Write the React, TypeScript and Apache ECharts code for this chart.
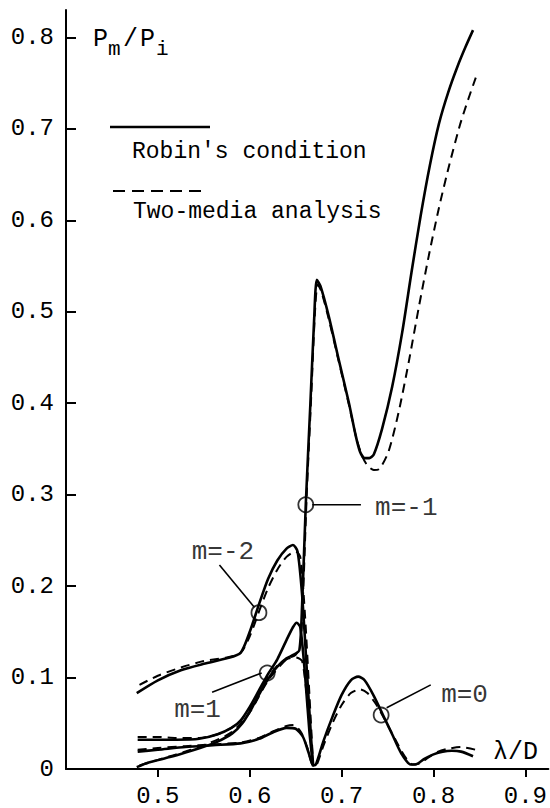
import React, { useEffect, useRef } from "react";
import * as echarts from "echarts";

// Robin's condition (solid)
const robinM0: number[][] = [
  [0.478, 0.019], [0.5, 0.021], [0.53, 0.024], [0.56, 0.026], [0.59, 0.028], [0.61, 0.033],
  [0.625, 0.04], [0.64, 0.045], [0.65, 0.044], [0.658, 0.035], [0.664, 0.018], [0.669, 0.004],
  [0.672, 0.005], [0.68, 0.03], [0.69, 0.057], [0.7, 0.081], [0.71, 0.097], [0.718, 0.101],
  [0.725, 0.097], [0.735, 0.08], [0.745, 0.059], [0.755, 0.038], [0.765, 0.017], [0.775, 0.005],
  [0.78, 0.005], [0.79, 0.011], [0.8, 0.016], [0.81, 0.019], [0.82, 0.02], [0.83, 0.019], [0.843, 0.014],
];
const robinM1: number[][] = [
  [0.478, 0.032], [0.5, 0.032], [0.52, 0.032], [0.545, 0.033], [0.565, 0.038], [0.58, 0.045],
  [0.59, 0.053], [0.6, 0.068], [0.61, 0.086], [0.62, 0.104], [0.63, 0.12], [0.64, 0.141],
  [0.647, 0.155], [0.651, 0.16], [0.655, 0.155], [0.66, 0.105], [0.665, 0.04], [0.669, 0.003],
];
const robinMm1: number[][] = [
  [0.477, 0.002], [0.49, 0.007], [0.513, 0.013], [0.53, 0.018], [0.549, 0.024], [0.565, 0.03],
  [0.581, 0.039], [0.592, 0.05], [0.603, 0.068], [0.612, 0.085], [0.621, 0.1], [0.63, 0.112],
  [0.64, 0.121], [0.648, 0.125], [0.654, 0.13], [0.657, 0.18], [0.661, 0.29], [0.666, 0.4],
  [0.67, 0.49], [0.673, 0.535], [0.677, 0.528], [0.686, 0.495], [0.697, 0.447], [0.708, 0.4],
  [0.715, 0.366], [0.72, 0.347], [0.725, 0.34], [0.73, 0.34], [0.735, 0.344], [0.744, 0.372],
  [0.755, 0.418], [0.766, 0.478], [0.776, 0.543], [0.786, 0.605], [0.796, 0.66], [0.806, 0.706],
  [0.816, 0.74], [0.826, 0.768], [0.835, 0.79], [0.843, 0.808],
];
const robinMm2: number[][] = [
  [0.477, 0.083], [0.5, 0.097], [0.525, 0.108], [0.55, 0.115], [0.575, 0.121], [0.59, 0.127],
  [0.6, 0.15], [0.61, 0.18], [0.62, 0.208], [0.63, 0.228], [0.64, 0.241], [0.647, 0.245],
  [0.652, 0.238], [0.657, 0.19], [0.662, 0.11], [0.667, 0.03], [0.669, 0.004],
];

// Two-media analysis (dashed)
const twoM0: number[][] = [
  [0.478, 0.021], [0.5, 0.023], [0.53, 0.025], [0.56, 0.027], [0.59, 0.029], [0.61, 0.034],
  [0.625, 0.041], [0.64, 0.047], [0.648, 0.048], [0.656, 0.04], [0.663, 0.022], [0.669, 0.004],
  [0.673, 0.005], [0.68, 0.025], [0.69, 0.05], [0.7, 0.07], [0.71, 0.083], [0.72, 0.087],
  [0.728, 0.083], [0.738, 0.07], [0.748, 0.052], [0.758, 0.033], [0.768, 0.015], [0.777, 0.005],
  [0.785, 0.006], [0.795, 0.013], [0.805, 0.019], [0.815, 0.022], [0.83, 0.024], [0.846, 0.021],
];
const twoM1: number[][] = [
  [0.478, 0.035], [0.5, 0.035], [0.52, 0.034], [0.545, 0.034], [0.565, 0.038], [0.58, 0.045],
  [0.59, 0.053], [0.6, 0.066], [0.61, 0.083], [0.62, 0.1], [0.63, 0.113], [0.64, 0.12],
  [0.65, 0.122], [0.657, 0.118], [0.663, 0.07], [0.669, 0.003],
];
const twoMm1: number[][] = [
  [0.48, 0.004], [0.5, 0.01], [0.52, 0.016], [0.55, 0.026], [0.58, 0.04], [0.6, 0.062],
  [0.62, 0.097], [0.64, 0.12], [0.65, 0.125], [0.655, 0.135], [0.658, 0.19], [0.662, 0.3],
  [0.667, 0.41], [0.671, 0.5], [0.674, 0.53], [0.678, 0.522], [0.686, 0.492], [0.697, 0.445],
  [0.708, 0.398], [0.716, 0.362], [0.722, 0.343], [0.728, 0.332], [0.735, 0.327], [0.741, 0.328],
  [0.751, 0.347], [0.762, 0.39], [0.773, 0.445], [0.784, 0.505], [0.795, 0.562], [0.806, 0.614],
  [0.817, 0.66], [0.829, 0.705], [0.838, 0.733], [0.846, 0.756],
];
const twoMm2: number[][] = [
  [0.48, 0.092], [0.5, 0.102], [0.525, 0.111], [0.55, 0.118], [0.575, 0.122], [0.59, 0.127],
  [0.6, 0.145], [0.61, 0.172], [0.62, 0.198], [0.63, 0.218], [0.64, 0.232], [0.65, 0.238],
  [0.655, 0.232], [0.66, 0.17], [0.665, 0.08], [0.669, 0.004],
];

// Annotations: order labels, circle marks and leader lines
const orderNames = ["m=-2", "m=1", "m=-1", "m=0"];
const circlePoints: number[][] = [[0.61, 0.171], [0.619, 0.105], [0.661, 0.289], [0.743, 0.059]];
const leaderStarts: number[][] = [[0.605, 0.177], [0.613, 0.105], [0.668, 0.289], [0.749, 0.067]];
const leaderEnds: number[][] = [[0.567, 0.223], [0.559, 0.084], [0.721, 0.289], [0.797, 0.092]];
const labelPoints: number[][] = [[0.5708, 0.2373], [0.5432, 0.0645], [0.7704, 0.2854], [0.8338, 0.0809]];

const xTicks = [0.5, 0.6, 0.7, 0.8, 0.9];
const yTicks = [0, 0.1, 0.2, 0.3, 0.4, 0.5, 0.6, 0.7, 0.8];

const MONO = "'Liberation Mono', 'DejaVu Sans Mono', monospace";

export default function App() {
  const ref = useRef<HTMLDivElement>(null);
  useEffect(() => {
    if (!ref.current) return;
    const chart = echarts.init(ref.current, undefined, { renderer: "svg" });

    const curve = (name: string, data: number[][], dashed: boolean) => ({
      name,
      type: "line",
      data,
      showSymbol: false,
      symbol: "none",
      smooth: 0.25,
      silent: true,
      lineStyle: dashed
        ? { color: "#000", width: 2, type: [9, 6] }
        : { color: "#000", width: 2.6 },
      z: dashed ? 3 : 4,
    });

    const leaders = leaderStarts.map((s, i) => ({
      name: "leader" + i,
      type: "line",
      data: [s, leaderEnds[i]],
      showSymbol: false,
      symbol: "none",
      silent: true,
      lineStyle: { color: "#000", width: 1.6 },
      z: 5,
    }));

    chart.setOption({
      animation: false,
      backgroundColor: "#fff",
      grid: { left: 66, right: 0, top: 10, bottom: 39, containLabel: false },
      xAxis: {
        type: "value",
        min: 0.4,
        max: 0.925,
        interval: 0.1,
        splitLine: { show: false },
        axisLine: { show: true, onZero: false, lineStyle: { color: "#000", width: 2 } },
        axisTick: {
          show: true,
          inside: false,
          length: 8,
          customValues: xTicks,
          lineStyle: { color: "#000", width: 2 },
        },
        axisLabel: {
          customValues: xTicks,
          formatter: (v: number) => v.toFixed(1),
          fontFamily: MONO,
          fontSize: 24,
          color: "#000",
          margin: 15,
        },
      },
      yAxis: {
        type: "value",
        min: 0,
        max: 0.83,
        interval: 0.1,
        splitLine: { show: false },
        axisLine: { show: true, onZero: false, lineStyle: { color: "#000", width: 2 } },
        axisTick: {
          show: true,
          inside: true,
          length: 10,
          customValues: yTicks,
          lineStyle: { color: "#000", width: 2 },
        },
        axisLabel: {
          customValues: yTicks,
          formatter: (v: number) => (v === 0 ? "0" : v.toFixed(1)),
          fontFamily: MONO,
          fontSize: 24,
          color: "#000",
          margin: 12,
        },
      },
      series: [
        curve("Two-media m=0", twoM0, true),
        curve("Two-media m=1", twoM1, true),
        curve("Two-media m=-1", twoMm1, true),
        curve("Two-media m=-2", twoMm2, true),
        curve("Robin m=0", robinM0, false),
        curve("Robin m=1", robinM1, false),
        curve("Robin m=-1", robinMm1, false),
        curve("Robin m=-2", robinMm2, false),
        ...leaders,
        {
          name: "circles",
          type: "scatter",
          data: circlePoints,
          symbol: "circle",
          symbolSize: 15,
          silent: true,
          itemStyle: { color: "rgba(0,0,0,0)", borderColor: "#000", borderWidth: 1.8 },
          z: 6,
        },
        {
          name: "orderLabels",
          type: "scatter",
          data: labelPoints.map((p, i) => ({ value: p, name: orderNames[i] })),
          symbolSize: 0,
          silent: true,
          label: {
            show: true,
            position: "inside",
            formatter: (p: any) => p.name,
            fontFamily: MONO,
            fontSize: 26,
            color: "#000",
          },
          z: 7,
        },
      ],
      graphic: [
        { type: "text", left: 93, top: 27, style: { text: "P", fontFamily: MONO, fontSize: 25, fill: "#000" } },
        { type: "text", left: 108, top: 39, style: { text: "m", fontFamily: MONO, fontSize: 21, fill: "#000" } },
        { type: "text", left: 123, top: 27, style: { text: "/", fontFamily: MONO, fontSize: 25, fill: "#000" } },
        { type: "text", left: 140, top: 27, style: { text: "P", fontFamily: MONO, fontSize: 25, fill: "#000" } },
        { type: "text", left: 156, top: 39, style: { text: "i", fontFamily: MONO, fontSize: 21, fill: "#000" } },
        {
          type: "line",
          shape: { x1: 110, y1: 127, x2: 210, y2: 127 },
          style: { stroke: "#000", lineWidth: 2.6 },
        },
        {
          type: "text",
          left: 132,
          top: 140,
          style: { text: "Robin's condition", fontFamily: MONO, fontSize: 23, fill: "#000" },
        },
        {
          type: "line",
          shape: { x1: 113, y1: 191, x2: 202, y2: 191 },
          style: { stroke: "#000", lineWidth: 2, lineDash: [12, 7] },
        },
        {
          type: "text",
          left: 133,
          top: 200,
          style: { text: "Two-media analysis", fontFamily: MONO, fontSize: 23, fill: "#000" },
        },
        {
          type: "text",
          left: 493,
          top: 740,
          style: { text: "λ/D", fontFamily: MONO, fontSize: 25, fill: "#000" },
        },
      ],
    });
    return () => chart.dispose();
  }, []);
  return (
    <div
      ref={ref}
      style={{ position: "fixed", left: 0, top: 0, width: 550, height: 808, background: "#fff" }}
    />
  );
}
